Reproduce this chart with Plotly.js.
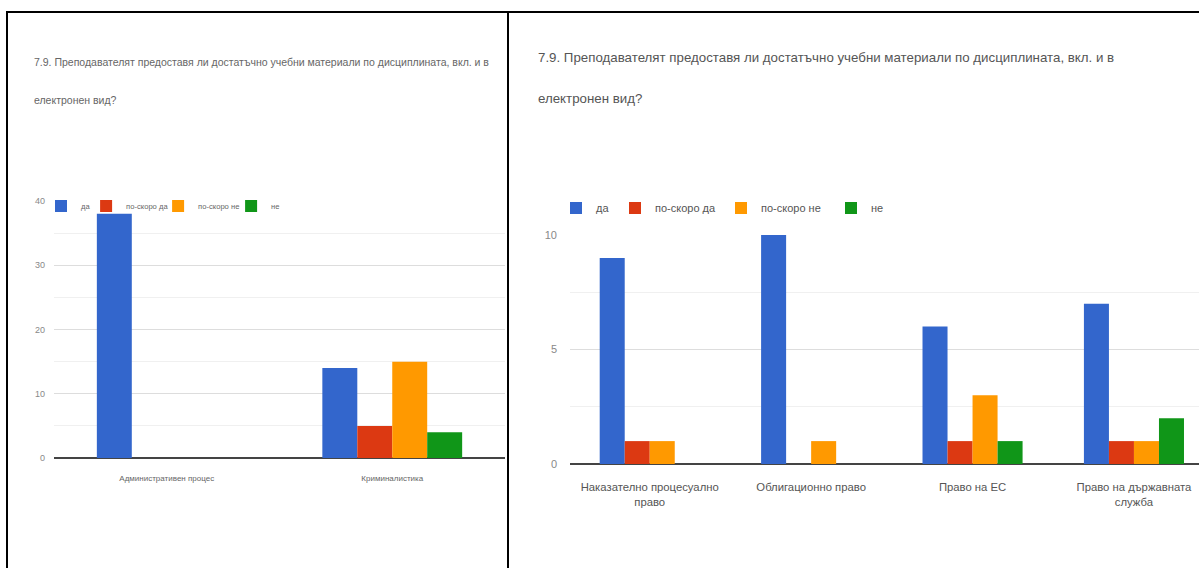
<!DOCTYPE html>
<html>
<head>
<meta charset="utf-8">
<script src="https://cdn.plot.ly/plotly-3.0.1.min.js"></script>
<style>
  html, body { margin: 0; padding: 0; background: #ffffff; }
  #chart { width: 1199px; height: 568px; }
</style>
</head>
<body>
<div id="chart"></div>
<script>
// ---- Data ----
const titleLine1 = '7.9. Преподавателят предоставя ли достатъчно учебни материали по дисциплината, вкл. и в';
const titleLine2 = 'електронен вид?';

const seriesNames = ['да', 'по-скоро да', 'по-скоро не', 'не'];
const seriesColors = ['#3366cc', '#dc3912', '#ff9900', '#109618'];

const leftCategories = ['Административен процес', 'Криминалистика'];
const leftDa = [38, 14];
const leftPoSkoroDa = [0, 5];
const leftPoSkoroNe = [0, 15];
const leftNe = [0, 4];
const leftTickVals = [0, 10, 20, 30, 40];

const rightCategories = ['Наказателно процесуално право', 'Облигационно право', 'Право на ЕС', 'Право на държавната служба'];
const rightTickLabels = ['Наказателно процесуално<br>право', 'Облигационно право', 'Право на ЕС', 'Право на държавната<br>служба'];
const rightDa = [9, 10, 6, 7];
const rightPoSkoroDa = [1, 0, 1, 1];
const rightPoSkoroNe = [1, 1, 3, 1];
const rightNe = [0, 0, 1, 2];
const rightTickVals = [0, 5, 10];

// ---- Styling ----
const FONT = '"Liberation Sans", Arial, sans-serif';
const W = 1199, H = 568;
const px = v => v / W;
const py = v => 1 - v / H;

const leftSeries = [leftDa, leftPoSkoroDa, leftPoSkoroNe, leftNe];
const rightSeries = [rightDa, rightPoSkoroDa, rightPoSkoroNe, rightNe];
const leftLegendWidths = [0.1, 27, 28, 10];
const rightLegendWidths = [14, 61, 65, 20];

const traces = [];
leftSeries.forEach((vals, i) => {
  traces.push({
    type: 'bar', name: seriesNames[i], x: leftCategories, y: vals,
    marker: { color: seriesColors[i] }, xaxis: 'x', yaxis: 'y',
    legend: 'legend', legendwidth: leftLegendWidths[i], hoverinfo: 'x+y+name'
  });
});
rightSeries.forEach((vals, i) => {
  traces.push({
    type: 'bar', name: seriesNames[i], x: rightCategories, y: vals,
    marker: { color: seriesColors[i] }, xaxis: 'x2', yaxis: 'y2',
    legend: 'legend2', legendwidth: rightLegendWidths[i], hoverinfo: 'x+y+name'
  });
});

const layout = {
  width: W, height: H,
  margin: { l: 0, r: 0, t: 0, b: 0 },
  paper_bgcolor: '#ffffff', plot_bgcolor: '#ffffff',
  font: { family: FONT, color: '#666666' },
  barmode: 'group', bargap: 0.38, bargroupgap: 0,
  xaxis: {
    domain: [px(54), px(505)], range: [-0.5, 1.5], type: 'category',
    showgrid: false, showline: false, ticks: '',
    tickfont: { size: 8, color: '#666666', family: FONT }, ticklabelstandoff: 14,
    anchor: 'y', fixedrange: true
  },
  yaxis: {
    domain: [py(458), py(201)], range: [0, 40],
    tickvals: leftTickVals, ticktext: leftTickVals.map(String),
    gridcolor: '#dddddd', gridwidth: 1,
    minor: { dtick: 5, showgrid: true, gridcolor: '#f0f0f0', gridwidth: 1 },
    zeroline: true, zerolinecolor: '#444444', zerolinewidth: 1.5,
    showline: false, ticks: '',
    tickfont: { size: 9, color: '#888888', family: FONT }, ticklabelstandoff: 8,
    anchor: 'x', fixedrange: true
  },
  xaxis2: {
    domain: [px(570), 1], range: [-0.494, 3.403], type: 'category',
    tickvals: rightCategories, ticktext: rightTickLabels,
    showgrid: false, showline: false, ticks: '',
    tickfont: { size: 11.3, color: '#555555', family: FONT }, ticklabelstandoff: 15,
    anchor: 'y2', fixedrange: true
  },
  yaxis2: {
    domain: [py(464), py(235)], range: [0, 10],
    tickvals: rightTickVals, ticktext: rightTickVals.map(String),
    gridcolor: '#dddddd', gridwidth: 1,
    minor: { dtick: 2.5, showgrid: true, gridcolor: '#f0f0f0', gridwidth: 1 },
    zeroline: true, zerolinecolor: '#444444', zerolinewidth: 1.5,
    showline: false, ticks: '',
    tickfont: { size: 11, color: '#888888', family: FONT }, ticklabelstandoff: 12,
    anchor: 'x2', fixedrange: true
  },
  legend: {
    orientation: 'h', x: px(41), y: py(206), xanchor: 'left', yanchor: 'middle',
    bgcolor: 'rgba(0,0,0,0)', borderwidth: 0,
    font: { size: 7.6, color: '#666666', family: FONT }, itemclick: false, itemdoubleclick: false
  },
  legend2: {
    orientation: 'h', x: px(556), y: py(208), xanchor: 'left', yanchor: 'middle',
    bgcolor: 'rgba(0,0,0,0)', borderwidth: 0,
    font: { size: 11, color: '#555555', family: FONT }, itemclick: false, itemdoubleclick: false
  },
  annotations: [
    { xref: 'paper', yref: 'paper', x: px(32), y: py(62), xanchor: 'left', yanchor: 'middle',
      text: titleLine1, showarrow: false, font: { size: 10.5, color: '#666666', family: FONT } },
    { xref: 'paper', yref: 'paper', x: px(32), y: py(100), xanchor: 'left', yanchor: 'middle',
      text: titleLine2, showarrow: false, font: { size: 10.5, color: '#666666', family: FONT } },
    { xref: 'paper', yref: 'paper', x: px(536), y: py(58), xanchor: 'left', yanchor: 'middle',
      text: titleLine1, showarrow: false, font: { size: 13.3, color: '#555555', family: FONT } },
    { xref: 'paper', yref: 'paper', x: px(536), y: py(98), xanchor: 'left', yanchor: 'middle',
      text: titleLine2, showarrow: false, font: { size: 13.3, color: '#555555', family: FONT } }
  ],
  shapes: [
    { type: 'line', xref: 'paper', yref: 'paper', x0: px(6), x1: 1, y0: py(12), y1: py(12),
      line: { color: '#000000', width: 2 } },
    { type: 'line', xref: 'paper', yref: 'paper', x0: px(7), x1: px(7), y0: 0, y1: py(12),
      line: { color: '#000000', width: 2 } },
    { type: 'line', xref: 'paper', yref: 'paper', x0: px(508), x1: px(508), y0: 0, y1: py(12),
      line: { color: '#000000', width: 2 } }
  ]
};

Plotly.newPlot('chart', traces, layout, { displayModeBar: false, responsive: false });
</script>
</body>
</html>
